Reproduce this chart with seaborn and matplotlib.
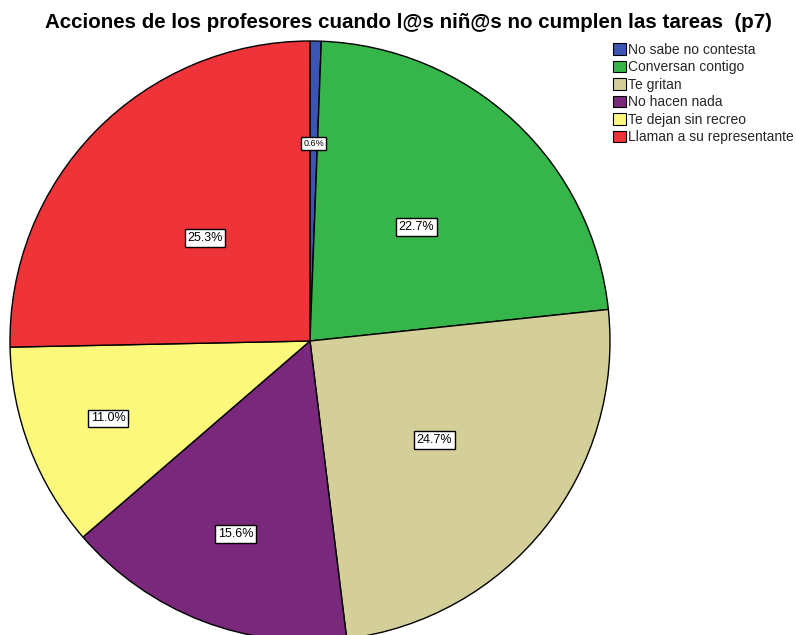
import numpy as np
import matplotlib
matplotlib.use("Agg")
import matplotlib.pyplot as plt
from matplotlib.patches import Patch
import seaborn as sns

categories = ["No sabe no contesta", "Conversan contigo", "Te gritan",
              "No hacen nada", "Te dejan sin recreo", "Llaman a su representante"]
values = [0.6, 22.7, 24.7, 15.6, 11.0, 25.3]
labels = ["0.6%", "22.7%", "24.7%", "15.6%", "11.0%", "25.3%"]
colors = ["#3b55b5", "#35b54a", "#d4cf99", "#7a287c", "#fcf87c", "#ee3339"]
label_radius = [0.66, 0.52, 0.53, 0.69, 0.72, 0.49]
label_sizes = [6.5, 9, 9, 9, 9, 9]

sns.set_theme(style="white")
plt.rcParams['font.family'] = ['Liberation Sans', 'DejaVu Sans']

W, H = 796, 635
fig = plt.figure(figsize=(W / 100, H / 100), dpi=100)
ax = fig.add_axes([0, 0, 1, 1])
cx, cy, R = 310, 341, 300

wedges, _ = ax.pie(values, colors=colors, startangle=90, counterclock=False,
                   radius=1, wedgeprops=dict(edgecolor="black", linewidth=1.0),
                   frame=False)
ax.set_xlim(-cx / R, (W - cx) / R)
ax.set_ylim(-(H - cy) / R, cy / R)
ax.set_aspect("auto")
ax.axis("off")

for w, lab, r, fs in zip(wedges, labels, label_radius, label_sizes):
    ang = np.deg2rad((w.theta1 + w.theta2) / 2)
    ax.text(r * np.cos(ang), r * np.sin(ang), lab, ha="center", va="center",
            fontsize=fs, color="black",
            bbox=dict(boxstyle="square,pad=0.22", facecolor="white",
                      edgecolor="black", linewidth=1.0))

fig.text(408 / W, 1 - 23 / H, "Acciones de los profesores cuando l@s niñ@s no cumplen las tareas  (p7)",
         ha="center", va="center", fontsize=14.8, fontweight="bold", color="black")

handles = [Patch(facecolor=c, edgecolor="black", linewidth=0.8) for c in colors]
fig.legend(handles, categories, loc="upper left", bbox_to_anchor=(613 / W, 1 - 43 / H),
           frameon=False, fontsize=10, handlelength=0.9, handleheight=0.9,
           handletextpad=0.15, labelspacing=0.25, borderaxespad=0, borderpad=0)

fig.savefig("out.png", dpi=100)
